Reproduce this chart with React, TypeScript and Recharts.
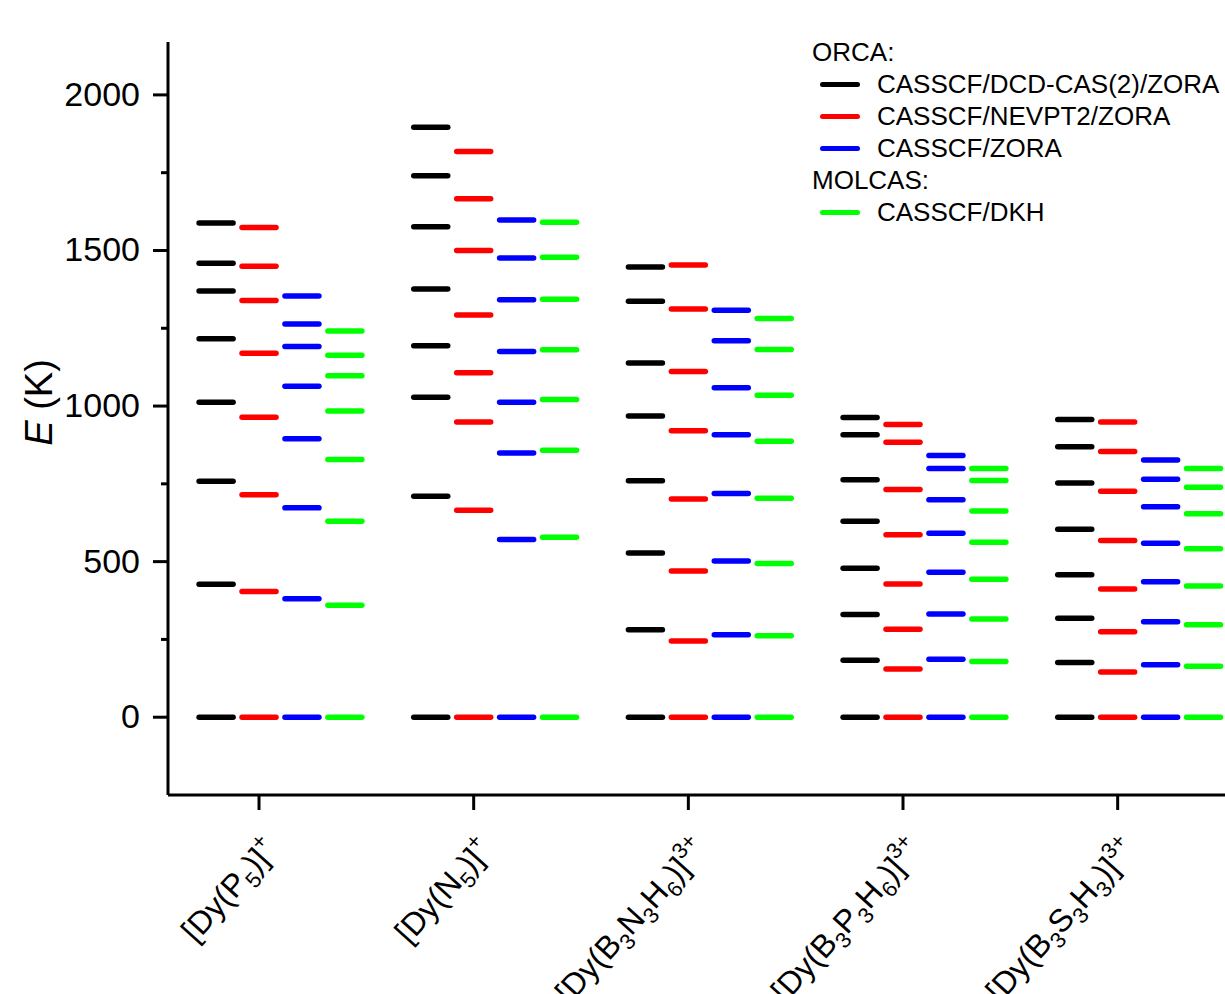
import React from 'react';
import { ScatterChart, Scatter, XAxis, YAxis, Legend } from 'recharts';

// Compounds (x categories) and their tick labels split into [text, kind] segments
const COMPOUNDS = ['[Dy(P5)]+', '[Dy(N5)]+', '[Dy(B3N3H6)]3+', '[Dy(B3P3H6)]3+', '[Dy(B3S3H3)]3+'];
const COMPOUND_LABEL_PARTS: [string, string][][] = [
  [['[Dy(P', 'n'], ['5', 'sub'], [')]', 'n'], ['+', 'sup']],
  [['[Dy(N', 'n'], ['5', 'sub'], [')]', 'n'], ['+', 'sup']],
  [['[Dy(B', 'n'], ['3', 'sub'], ['N', 'n'], ['3', 'sub'], ['H', 'n'], ['6', 'sub'], [')]', 'n'], ['3+', 'sup']],
  [['[Dy(B', 'n'], ['3', 'sub'], ['P', 'n'], ['3', 'sub'], ['H', 'n'], ['6', 'sub'], [')]', 'n'], ['3+', 'sup']],
  [['[Dy(B', 'n'], ['3', 'sub'], ['S', 'n'], ['3', 'sub'], ['H', 'n'], ['3', 'sub'], [')]', 'n'], ['3+', 'sup']],
];

// Methods / series
const METHODS = ['CASSCF/DCD-CAS(2)/ZORA', 'CASSCF/NEVPT2/ZORA', 'CASSCF/ZORA', 'CASSCF/DKH'];
const PROGRAMS = ['ORCA', 'ORCA', 'ORCA', 'MOLCAS'];

// Energy levels (K), one sub-array per compound
const DCD_CAS2_ZORA = [
  [0, 427, 758, 1012, 1216, 1370, 1459, 1588],
  [0, 710, 1028, 1194, 1376, 1576, 1740, 1896],
  [0, 281, 528, 760, 968, 1138, 1337, 1447],
  [0, 183, 330, 479, 630, 763, 908, 963],
  [0, 176, 318, 458, 604, 753, 869, 957],
];
const NEVPT2_ZORA = [
  [0, 404, 715, 964, 1170, 1339, 1449, 1574],
  [0, 665, 949, 1107, 1293, 1500, 1666, 1818],
  [0, 245, 470, 701, 921, 1111, 1312, 1453],
  [0, 155, 283, 428, 586, 732, 884, 941],
  [0, 145, 275, 412, 568, 726, 854, 949],
];
const CASSCF_ZORA = [
  [0, 381, 673, 895, 1064, 1191, 1264, 1354],
  [0, 571, 849, 1012, 1175, 1342, 1476, 1598],
  [0, 265, 502, 719, 908, 1059, 1210, 1308],
  [0, 186, 332, 466, 591, 699, 799, 841],
  [0, 169, 307, 435, 559, 676, 765, 827],
];
const CASSCF_DKH = [
  [0, 360, 630, 828, 984, 1097, 1163, 1241],
  [0, 578, 858, 1021, 1181, 1343, 1478, 1591],
  [0, 262, 494, 704, 887, 1035, 1182, 1281],
  [0, 179, 316, 443, 562, 663, 761, 799],
  [0, 164, 297, 422, 541, 654, 739, 799],
];

const Y_TICKS = [0, 250, 500, 750, 1000, 1250, 1500, 1750, 2000];

// styling / placement
const SERIES_LEVELS = [DCD_CAS2_ZORA, NEVPT2_ZORA, CASSCF_ZORA, CASSCF_DKH];
const COLORS = ['#000000', '#ff0000', '#0000ff', '#00ff00'];
const OFFSETS = [-0.2, 0, 0.2, 0.4];
const FONT = '"Liberation Sans", Arial, sans-serif';

const seriesData = SERIES_LEVELS.map((levels, m) =>
  levels.flatMap((row, c) => row.map((e) => ({ x: c + OFFSETS[m], y: e, compound: COMPOUNDS[c] })))
);

const makeDash = (color: string) => (props: any) => {
  const { cx, cy } = props;
  if (cx == null || cy == null) return <g />;
  return (
    <line x1={cx - 17} x2={cx + 17} y1={cy} y2={cy} stroke={color} strokeWidth={5.5} strokeLinecap="round" />
  );
};

const YTick = (props: any) => {
  const { x, y, payload } = props;
  const v = payload.value;
  const major = v % 500 === 0;
  return (
    <g>
      <line x1={x} x2={x - (major ? 15 : 7)} y1={y} y2={y} stroke="#000" strokeWidth={3} />
      {major && (
        <text x={x - 28} y={y + 11} textAnchor="end" fontSize={34} fontFamily={FONT} fill="#000">
          {v}
        </text>
      )}
    </g>
  );
};

const XTick = (props: any) => {
  const { x, y, payload } = props;
  const idx = Math.round(payload.value);
  const parts = COMPOUND_LABEL_PARTS[idx] || [];
  const shift: Record<string, number> = { n: 0, sub: 8, sup: -14 };
  let cur = 0;
  return (
    <g>
      <line x1={x} x2={x} y1={y} y2={y + 15} stroke="#000" strokeWidth={3} />
      <text
        transform={`translate(${x + 20},${y + 56}) rotate(-48)`}
        textAnchor="end"
        fontSize={32}
        fontFamily={FONT}
        fill="#000"
      >
        {parts.map(([t, k], i) => {
          const target = shift[k];
          const dy = target - cur;
          cur = target;
          return (
            <tspan key={i} dy={dy} fontSize={k === 'n' ? 32 : 22}>
              {t}
            </tspan>
          );
        })}
      </text>
    </g>
  );
};

const YTitle = (props: any) => {
  const vb = props.viewBox || { x: 0, y: 0, width: 0, height: 0 };
  const cx = vb.x + 52;
  const cy = vb.y + vb.height / 2 - 16;
  return (
    <text
      transform={`translate(${cx},${cy}) rotate(-90)`}
      textAnchor="middle"
      fontSize={38}
      fontFamily={FONT}
      fill="#000"
    >
      <tspan fontStyle="italic">E</tspan>
      <tspan> (K)</tspan>
    </text>
  );
};

const LegendBox = () => {
  const rows: React.ReactNode[] = [];
  let lastProg = '';
  METHODS.forEach((name, i) => {
    if (PROGRAMS[i] !== lastProg) {
      lastProg = PROGRAMS[i];
      rows.push(
        <div key={'h' + i} style={{ height: 32, lineHeight: '32px', whiteSpace: 'nowrap' }}>
          {PROGRAMS[i]}:
        </div>
      );
    }
    rows.push(
      <div key={'r' + i} style={{ height: 32, display: 'flex', alignItems: 'center', whiteSpace: 'nowrap' }}>
        <div style={{ width: 40, height: 5, borderRadius: 3, background: COLORS[i], marginLeft: 8, marginRight: 17 }} />
        <span style={{ lineHeight: '32px' }}>{name}</span>
      </div>
    );
  });
  return <div style={{ fontFamily: FONT, fontSize: 26, color: '#000' }}>{rows}</div>;
};

export default function App() {
  return (
    <div style={{ position: 'absolute', left: 0, top: 0, background: '#fff' }}>
      <ScatterChart width={1225} height={994} margin={{ top: 42, right: 0, bottom: 0, left: 0 }}>
        <XAxis
          type="number"
          dataKey="x"
          domain={[-0.424, 4.5]}
          allowDataOverflow
          ticks={[0, 1, 2, 3, 4]}
          height={199}
          tickSize={0}
          tickMargin={0}
          tick={<XTick />}
          axisLine={{ stroke: '#000', strokeWidth: 3 }}
          tickLine={false}
        />
        <YAxis
          type="number"
          dataKey="y"
          domain={[-250, 2170]}
          allowDataOverflow
          ticks={Y_TICKS}
          width={168}
          tickSize={0}
          tickMargin={0}
          tick={<YTick />}
          axisLine={{ stroke: '#000', strokeWidth: 3 }}
          tickLine={false}
          label={(p: any) => <YTitle {...p} />}
        />
        {METHODS.map((name, m) => (
          <Scatter
            key={name}
            name={name}
            data={seriesData[m]}
            fill={COLORS[m]}
            shape={makeDash(COLORS[m])}
            isAnimationActive={false}
          />
        ))}
        <Legend
          layout="vertical"
          align="center"
          verticalAlign="middle"
          wrapperStyle={{ left: 812, top: 36, width: 420 }}
          content={() => <LegendBox />}
        />
      </ScatterChart>
    </div>
  );
}
